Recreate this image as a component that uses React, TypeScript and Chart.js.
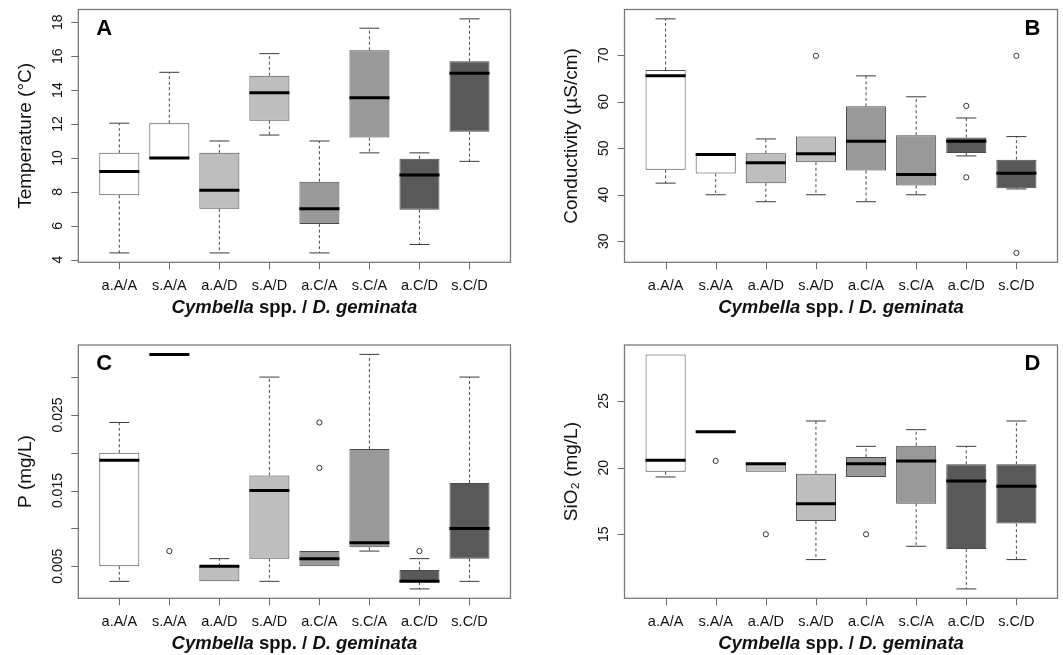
import React, { useEffect, useRef } from 'react';
import { Chart, registerables } from 'chart.js';

Chart.register(...registerables);

// ---------- data ----------
const categories = ['a.A/A', 's.A/A', 'a.A/D', 's.A/D', 'a.C/A', 's.C/A', 'a.C/D', 's.C/D'];
const boxColors = ['#FFFFFF', '#FFFFFF', '#BEBEBE', '#BEBEBE', '#999999', '#999999', '#595959', '#595959'];

// each row: [lower whisker, Q1, median, Q3, upper whisker]
const tempStats = [
  [4.4, 7.8, 9.2, 10.3, 12.05],
  [10.0, 10.0, 10.0, 12.05, 15.05],
  [4.4, 7.0, 8.1, 10.3, 11.0],
  [11.35, 12.2, 13.85, 14.85, 16.15],
  [4.4, 6.1, 7.0, 8.6, 11.0],
  [10.3, 11.2, 13.55, 16.35, 17.65],
  [4.9, 6.95, 9.0, 9.95, 10.3],
  [9.8, 11.55, 15.0, 15.7, 18.2],
];
const tempOutliers: number[][] = [[], [], [], [], [], [], [], []];
const tempTicks = [4, 6, 8, 10, 12, 14, 16, 18];
const tempTickLabels = ['4', '6', '8', '10', '12', '14', '16', '18'];

const condStats = [
  [42.5, 45.35, 65.55, 66.8, 77.8],
  [40.0, 44.55, 48.65, 48.85, 48.85],
  [38.5, 42.5, 46.9, 48.9, 52.0],
  [40.0, 47.0, 48.8, 52.5, 52.5],
  [38.5, 45.2, 51.5, 59.0, 65.55],
  [40.0, 42.0, 44.35, 52.8, 61.05],
  [48.35, 49.0, 51.5, 52.3, 56.5],
  [41.25, 41.4, 44.6, 47.55, 52.5],
];
const condOutliers: number[][] = [[], [], [], [69.85], [], [], [59.1, 43.75], [69.85, 27.5]];
const condTicks = [30, 40, 50, 60, 70];
const condTickLabels = ['30', '40', '50', '60', '70'];

const pStats = [
  [0.003, 0.005, 0.019, 0.02, 0.024],
  [0.033, 0.033, 0.033, 0.033, 0.033],
  [0.003, 0.003, 0.005, 0.005, 0.006],
  [0.003, 0.006, 0.015, 0.017, 0.03],
  [0.005, 0.005, 0.006, 0.007, 0.007],
  [0.007, 0.0075, 0.0081, 0.0205, 0.033],
  [0.002, 0.0029, 0.003, 0.0045, 0.006],
  [0.003, 0.006, 0.01, 0.016, 0.03],
];
const pOutliers: number[][] = [[], [0.007], [], [], [0.024, 0.018], [], [0.007], []];
const pTicks = [0.005, 0.01, 0.015, 0.02, 0.025, 0.03];
const pTickLabels = ['0.005', '', '0.015', '', '0.025', ''];

const siStats = [
  [19.3, 19.7, 20.55, 28.5, 28.5],
  [22.7, 22.7, 22.7, 22.7, 22.7],
  [19.7, 19.7, 20.3, 20.35, 20.35],
  [13.1, 16.0, 17.3, 19.55, 23.5],
  [19.3, 19.3, 20.3, 20.8, 21.6],
  [14.1, 17.3, 20.5, 21.65, 22.85],
  [10.9, 13.9, 19.0, 20.25, 21.6],
  [13.1, 15.8, 18.6, 20.25, 23.5],
];
const siOutliers: number[][] = [[], [20.5], [15.0], [], [15.0], [], [], []];
const siTicks = [15, 20, 25];
const siTickLabels = ['15', '20', '25'];

// ---------- layout ----------
const FONT = '"Liberation Sans", Arial, Helvetica, sans-serif';

type Frame = { L: number; R: number; T: number; B: number };
type PanelDef = {
  id: string;
  letter: string;
  letterSide: 'left' | 'right';
  stats: number[][];
  outliers: number[][];
  ticks: number[];
  tickLabels: string[];
  yTitle: string;
  left: number;
  top: number;
  width: number;
  height: number;
  frame: Frame;
};

const panels: PanelDef[] = [
  {
    id: 'A', letter: 'A', letterSide: 'left', stats: tempStats, outliers: tempOutliers,
    ticks: tempTicks, tickLabels: tempTickLabels, yTitle: 'Temperature (°C)',
    left: 0, top: 0, width: 531, height: 328, frame: { L: 78.3, R: 510.5, T: 9.5, B: 262.3 },
  },
  {
    id: 'B', letter: 'B', letterSide: 'right', stats: condStats, outliers: condOutliers,
    ticks: condTicks, tickLabels: condTickLabels, yTitle: 'Conductivity (µS/cm)',
    left: 531, top: 0, width: 532, height: 328, frame: { L: 624.5, R: 1057.5, T: 9.5, B: 262.3 },
  },
  {
    id: 'C', letter: 'C', letterSide: 'left', stats: pStats, outliers: pOutliers,
    ticks: pTicks, tickLabels: pTickLabels, yTitle: 'P (mg/L)',
    left: 0, top: 328, width: 531, height: 327, frame: { L: 78.3, R: 510.5, T: 345, B: 598.3 },
  },
  {
    id: 'D', letter: 'D', letterSide: 'right', stats: siStats, outliers: siOutliers,
    ticks: siTicks, tickLabels: siTickLabels, yTitle: 'SiO₂ (mg/L)',
    left: 531, top: 328, width: 532, height: 327, frame: { L: 624.5, R: 1057.5, T: 345, B: 598.3 },
  },
];

function Panel({ p }: { p: PanelDef }) {
  const ref = useRef<HTMLCanvasElement>(null);

  useEffect(() => {
    const canvas = ref.current;
    if (!canvas) return;
    const allOut = p.outliers.flat();
    const lo = Math.min(...p.stats.map((s) => s[0]), ...allOut);
    const hi = Math.max(...p.stats.map((s) => s[4]), ...allOut);
    const ext = (hi - lo) * 0.04;

    const pad = {
      left: p.frame.L - p.left,
      top: p.frame.T - p.top,
      right: p.left + p.width - p.frame.R,
      bottom: p.top + p.height - p.frame.B,
    };

    const decor = {
      id: 'boxDecor' + p.id,
      afterDatasetsDraw(chart: any) {
        const ctx = chart.ctx as CanvasRenderingContext2D;
        const ys = chart.scales.y;
        const meta = chart.getDatasetMeta(0);
        ctx.save();
        p.stats.forEach((s, i) => {
          const el = meta.data[i] as any;
          const cx = el.x;
          const w = el.width;
          const yMin = ys.getPixelForValue(s[0]);
          const yQ1 = ys.getPixelForValue(s[1]);
          const yMed = ys.getPixelForValue(s[2]);
          const yQ3 = ys.getPixelForValue(s[3]);
          const yMax = ys.getPixelForValue(s[4]);
          ctx.strokeStyle = '#4a4a4a';
          ctx.lineWidth = 1;
          ctx.setLineDash([3, 2.5]);
          ctx.beginPath();
          if (s[4] > s[3]) {
            ctx.moveTo(cx, yQ3);
            ctx.lineTo(cx, yMax);
          }
          if (s[0] < s[1]) {
            ctx.moveTo(cx, yQ1);
            ctx.lineTo(cx, yMin);
          }
          ctx.stroke();
          ctx.setLineDash([]);
          ctx.strokeStyle = '#3a3a3a';
          ctx.beginPath();
          if (s[4] > s[3]) {
            ctx.moveTo(cx - w / 4, yMax);
            ctx.lineTo(cx + w / 4, yMax);
          }
          if (s[0] < s[1]) {
            ctx.moveTo(cx - w / 4, yMin);
            ctx.lineTo(cx + w / 4, yMin);
          }
          ctx.stroke();
          ctx.strokeStyle = '#000000';
          ctx.lineWidth = 3;
          ctx.beginPath();
          ctx.moveTo(cx - w / 2, yMed);
          ctx.lineTo(cx + w / 2, yMed);
          ctx.stroke();
        });
        ctx.restore();
      },
      afterDraw(chart: any) {
        const ctx = chart.ctx as CanvasRenderingContext2D;
        const xs = chart.scales.x;
        const ys = chart.scales.y;
        const a = chart.chartArea;
        ctx.save();
        ctx.strokeStyle = '#7a7a7a';
        ctx.lineWidth = 1.3;
        ctx.strokeRect(a.left, a.top, a.right - a.left, a.bottom - a.top);
        ctx.lineWidth = 1;
        ctx.strokeStyle = '#6a6a6a';
        ctx.beginPath();
        p.ticks.forEach((v) => {
          const y = Math.round(ys.getPixelForValue(v)) + 0.5;
          ctx.moveTo(a.left, y);
          ctx.lineTo(a.left - 7, y);
        });
        categories.forEach((_, i) => {
          const x = Math.round(xs.getPixelForValue(i + 1)) + 0.5;
          ctx.moveTo(x, a.bottom);
          ctx.lineTo(x, a.bottom + 7);
        });
        ctx.stroke();
        ctx.fillStyle = '#111111';
        ctx.font = '14px ' + FONT;
        ctx.textAlign = 'center';
        ctx.textBaseline = 'middle';
        p.ticks.forEach((v, i) => {
          const lab = p.tickLabels[i];
          if (!lab) return;
          const y = ys.getPixelForValue(v);
          ctx.save();
          ctx.translate(a.left - 20, y);
          ctx.rotate(-Math.PI / 2);
          ctx.fillText(lab, 0, 0);
          ctx.restore();
        });
        ctx.font = '14.5px ' + FONT;
        categories.forEach((c, i) => {
          ctx.fillText(c, xs.getPixelForValue(i + 1), a.bottom + 24);
        });
        ctx.save();
        ctx.font = '19px ' + FONT;
        ctx.translate(a.left - 53, (a.top + a.bottom) / 2);
        ctx.rotate(-Math.PI / 2);
        ctx.fillText(p.yTitle, 0, 0);
        ctx.restore();
        const parts = [
          { t: 'Cymbella', f: 'italic bold 18.5px ' + FONT },
          { t: ' spp. / ', f: 'bold 18.5px ' + FONT },
          { t: 'D. geminata', f: 'italic bold 18.5px ' + FONT },
        ];
        let total = 0;
        const widths = parts.map((pt) => {
          ctx.font = pt.f;
          const w = ctx.measureText(pt.t).width;
          total += w;
          return w;
        });
        let x0 = (a.left + a.right) / 2 - total / 2;
        ctx.textAlign = 'left';
        parts.forEach((pt, i) => {
          ctx.font = pt.f;
          ctx.fillText(pt.t, x0, a.bottom + 46);
          x0 += widths[i];
        });
        ctx.font = 'bold 22px ' + FONT;
        ctx.fillStyle = '#000000';
        if (p.letterSide === 'left') {
          ctx.textAlign = 'left';
          ctx.fillText(p.letter, a.left + 18, a.top + 19);
        } else {
          ctx.textAlign = 'right';
          ctx.fillText(p.letter, a.right - 17, a.top + 19);
        }
        ctx.restore();
      },
    };

    const chart = new Chart(canvas, {
      type: 'bar',
      data: {
        datasets: [
          {
            type: 'bar',
            data: p.stats.map((s, i) => ({ x: i + 1, y: [s[1], s[3]] })) as any,
            backgroundColor: boxColors,
            borderColor: '#4a4a4a',
            borderWidth: 1,
            borderSkipped: false,
            barPercentage: 0.8,
            categoryPercentage: 1,
            order: 2,
          } as any,
          {
            type: 'scatter',
            data: p.outliers.flatMap((arr, i) => arr.map((v) => ({ x: i + 1, y: v }))) as any,
            pointRadius: 2.6,
            pointBorderWidth: 1,
            pointBorderColor: '#333333',
            pointBackgroundColor: 'rgba(0,0,0,0)',
            showLine: false,
            order: 1,
          } as any,
        ],
      },
      options: {
        responsive: false,
        animation: false,
        devicePixelRatio: 1,
        layout: { padding: pad },
        plugins: { legend: { display: false }, tooltip: { enabled: false } },
        scales: {
          x: { type: 'linear', display: false, offset: false, grid: { offset: false }, min: 0.18, max: 8.82 },
          y: { type: 'linear', display: false, min: lo - ext, max: hi + ext },
        },
      },
      plugins: [decor],
    });
    return () => chart.destroy();
  }, [p]);

  return (
    <canvas
      ref={ref}
      width={p.width}
      height={p.height}
      style={{ position: 'absolute', left: p.left, top: p.top, width: p.width, height: p.height }}
    />
  );
}

export default function App() {
  return (
    <div style={{ position: 'absolute', left: 0, top: 0, width: 1063, height: 655, background: '#ffffff', overflow: 'hidden' }}>
      {panels.map((p) => (
        <Panel key={p.id} p={p} />
      ))}
    </div>
  );
}
